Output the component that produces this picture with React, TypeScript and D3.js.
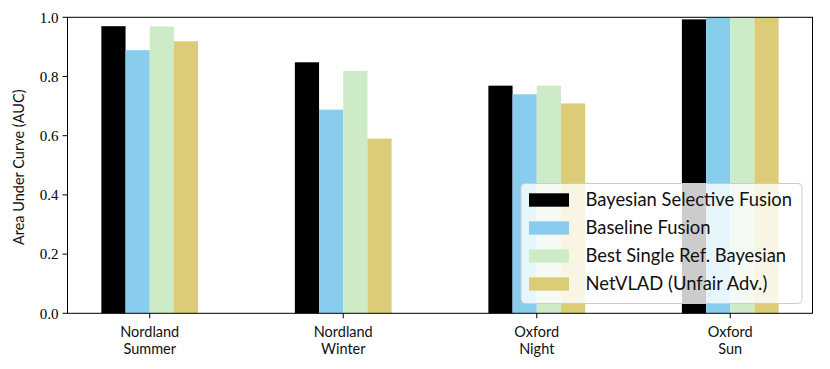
import * as d3 from "d3";

const categories = [["Nordland", "Summer"], ["Nordland", "Winter"], ["Oxford", "Night"], ["Oxford", "Sun"]];
const seriesNames = ["Bayesian Selective Fusion", "Baseline Fusion", "Best Single Ref. Bayesian", "NetVLAD (Unfair Adv.)"];
const seriesColors = ["#000000", "#88ccee", "#cdebc6", "#ddcc77"];
const bayesianSelective = [0.97, 0.848, 0.769, 0.993];
const baselineFusion = [0.889, 0.688, 0.74, 0.999];
const bestSingleRef = [0.969, 0.819, 0.769, 0.997];
const netVlad = [0.919, 0.59, 0.709, 0.999];
const yTicks = [0, 0.2, 0.4, 0.6, 0.8, 1.0];

const series = [bayesianSelective, baselineFusion, bestSingleRef, netVlad];

export default function App() {
  const width = 830;
  const height = 369;
  const left = 67.5, right = 812.5, top = 17.3, bottom = 313.3;
  const barW = 0.125;

  // matplotlib-like linear x axis with 5% margins
  const x = d3.scaleLinear([-0.425, 3.425], [left, right]);
  const y = d3.scaleLinear([0, 1], [bottom, top]);

  const sans = "Lato, 'DejaVu Sans', sans-serif";
  const serif = "'Liberation Serif', 'DejaVu Serif', serif";

  const legX = 521, legY = 183.5, legW = 281, legH = 120;
  const fs = 18.4;

  return (
    <svg width={width} height={height} style={{ position: "absolute", left: 0, top: 0 }}>
      <rect width={width} height={height} fill="white" />
      <g>
        {series.map((vals, si) =>
          vals.map((v, ci) => {
            const x0 = x(ci - 0.25 + si * barW);
            const x1 = x(ci - 0.25 + (si + 1) * barW);
            return (
              <rect key={`${si}-${ci}`} x={x0} y={y(v)} width={x1 - x0} height={y(0) - y(v)} fill={seriesColors[si]} />
            );
          })
        )}
      </g>
      <rect x={left} y={top} width={right - left} height={bottom - top} fill="none" stroke="black" strokeWidth={1} />
      <g fontFamily={serif} fontSize={15} fill="black">
        {yTicks.map((t) => (
          <g key={t}>
            <line x1={left - 5} x2={left} y1={y(t)} y2={y(t)} stroke="black" />
            <text x={left - 9} y={y(t)} dy="0.35em" textAnchor="end">{t.toFixed(1)}</text>
          </g>
        ))}
      </g>
      <g fontFamily={sans} fontSize={14.5} fill="#111">
        {categories.map((c, i) => (
          <g key={i}>
            <line x1={x(i)} x2={x(i)} y1={bottom} y2={bottom + 5} stroke="black" />
            <text x={x(i)} y={332} dy="0.35em" textAnchor="middle">{c[0]}</text>
            <text x={x(i)} y={348.5} dy="0.35em" textAnchor="middle">{c[1]}</text>
          </g>
        ))}
        <text transform={`translate(19,${(top + bottom) / 2 + 2}) rotate(-90)`} textAnchor="middle" dy="0.35em">
          Area Under Curve (AUC)
        </text>
      </g>
      <g>
        <rect x={legX} y={legY} width={legW} height={legH} rx={4} fill="white" fillOpacity={0.8} stroke="#cccccc" strokeWidth={1} />
        {seriesNames.map((name, i) => {
          const cy = 200 + i * 28;
          return (
            <g key={name}>
              <rect x={529} y={cy - 6.7} width={40} height={13.4} fill={seriesColors[i]} />
              <text x={585.5} y={cy} dy="0.35em" fontFamily={sans} fontSize={fs} fill="#111">{name}</text>
            </g>
          );
        })}
      </g>
    </svg>
  );
}
